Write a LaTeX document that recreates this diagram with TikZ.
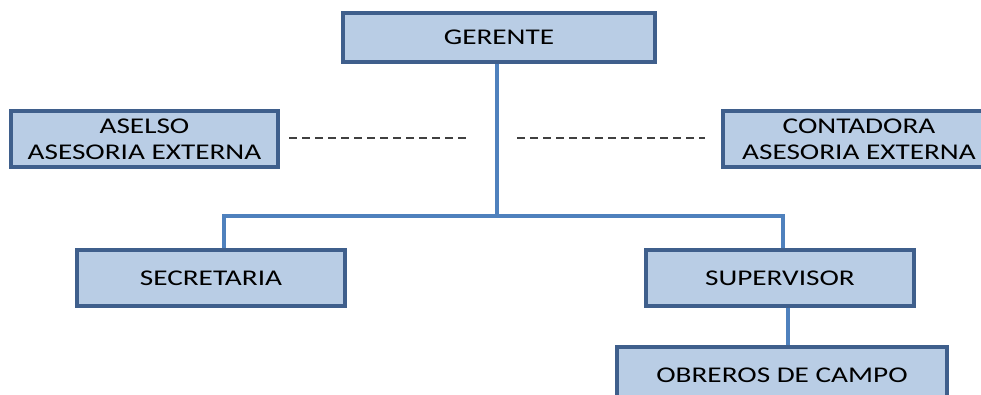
\documentclass[tikz,border=0pt]{standalone}
\usepackage{fontspec}
\newfontfamily\boxfont[FakeStretch=1.3]{Carlito}
\definecolor{boxfill}{HTML}{B9CDE5}
\definecolor{boxline}{HTML}{3F5F8C}
\definecolor{conn}{HTML}{4F81BD}
\definecolor{dashc}{HTML}{404040}
\begin{document}
\begin{tikzpicture}[x=1pt,y=1pt,
  orgbox/.style={draw=boxline, fill=boxfill, line width=3.2pt, inner sep=0pt,
    align=center, text=black,
    font={\boxfont\fontsize{22.5pt}{26pt}\selectfont}},
  link/.style={draw=conn, line width=3.2pt},
  dashlink/.style={draw=dashc, line width=1.4pt, dash pattern=on 8pt off 5pt}]
\useasboundingbox (0,0) rectangle (981,395);
\clip (0,0) rectangle (981,395);
\node[orgbox, minimum width=312pt, minimum height=49pt] (ger) at (499,357.5) {GERENTE};
\node[orgbox, minimum width=267pt, minimum height=56pt] (ase) at (144.5,256) {ASELSO\\ASESORIA EXTERNA};
\node[orgbox, minimum width=272pt, minimum height=56pt] (con) at (859,256) {CONTADORA\\ASESORIA EXTERNA};
\node[orgbox, minimum width=268pt, minimum height=56pt] (sec) at (211,117) {SECRETARIA};
\node[orgbox, minimum width=268pt, minimum height=56pt] (sup) at (780,117) {SUPERVISOR};
\node[orgbox, minimum width=330pt, minimum height=56pt] (obr) at (782,20) {OBREROS DE CAMPO};
\coordinate (j) at (497,179);
\coordinate (jl) at (224,179);
\coordinate (jr) at (783,179);
\coordinate (ob) at (788,0);
\draw[link] (ger.south -| j) -- (j);
\draw[link] (sec.north -| jl) -- (jl) -- (jr) -- (sup.north -| jr);
\draw[link] (sup.south -| ob) -- (obr.north -| ob);
\coordinate (dl1) at (289,257);
\coordinate (dl2) at (470,257);
\coordinate (dr1) at (517,257);
\coordinate (dr2) at (705,257);
\draw[dashlink] (dl1) -- (dl2);
\draw[dashlink] (dr1) -- (dr2);
\end{tikzpicture}
\end{document}
